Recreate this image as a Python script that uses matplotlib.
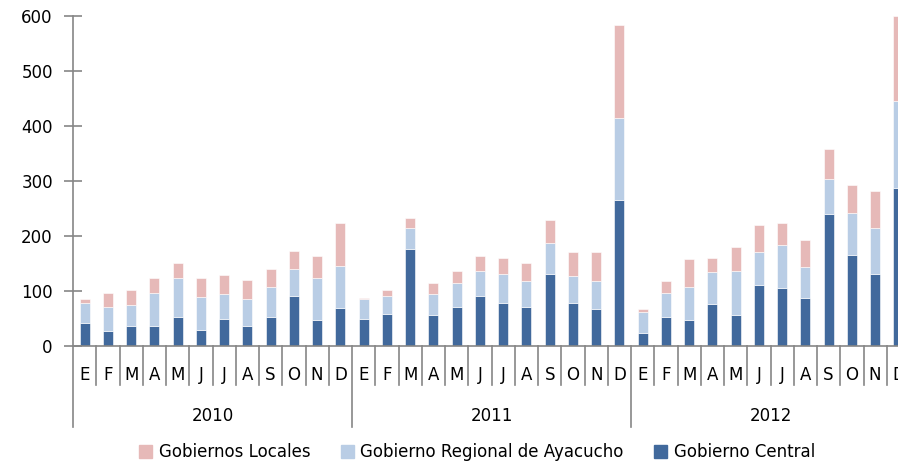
import numpy as np
import matplotlib
matplotlib.use('Agg')
from matplotlib import pyplot as plt
from matplotlib.patches import Patch

plt.rcParams['font.family'] = ['Liberation Sans Narrow', 'DejaVu Sans']

# data (millions)
years = ['2010', '2011', '2012']
months = ['E', 'F', 'M', 'A', 'M', 'J', 'J', 'A', 'S', 'O', 'N', 'D']

# cumulative tops of each layer
central = [42, 27, 36, 36, 53, 30, 50, 36, 53, 91, 48, 70,
           50, 59, 177, 56, 71, 91, 79, 71, 131, 79, 68, 266,
           24, 53, 48, 76, 56, 111, 105, 88, 240, 166, 131, 287]
regional_top = [79, 71, 74, 96, 123, 89, 94, 85, 108, 140, 123, 146,
                85, 91, 214, 94, 114, 137, 131, 119, 188, 128, 119, 414,
                62, 96, 108, 134, 137, 171, 183, 143, 304, 241, 214, 445]
locales_top = [85, 96, 102, 123, 151, 123, 129, 120, 140, 172, 164, 223,
               88, 102, 232, 114, 137, 163, 160, 151, 229, 171, 171, 584,
               67, 119, 158, 160, 180, 220, 224, 192, 359, 293, 281, 600]

central = np.array(central)
regional = np.array(regional_top) - central
locales = np.array(locales_top) - np.array(regional_top)

c_central = '#41699C'
c_regional = '#B9CDE5'
c_locales = '#E6B9B8'

fig = plt.figure(figsize=(8.98, 4.62), dpi=100)
# axes runs past the right edge like the original picture
ax = fig.add_axes([73/898, (462-346)/462, (910-73)/898, (346-16)/462])

n = len(central)
x = np.arange(n)
w = 0.42
ax.bar(x, central, w, color=c_central, edgecolor='white', linewidth=0.4)
ax.bar(x, regional, w, bottom=central, color=c_regional, edgecolor='white', linewidth=0.4)
ax.bar(x, locales, w, bottom=central + regional, color=c_locales, edgecolor='white', linewidth=0.4)

ax.set_xlim(-0.5, n - 0.5)
ax.set_ylim(0, 600)
ax.set_yticks(range(0, 601, 100))
ax.tick_params(axis='y', direction='inout', length=13, width=1.2, color='#868686',
               labelsize=12, pad=8)
ax.set_xticks([])
for s in ['top', 'right']:
    ax.spines[s].set_visible(False)
for s in ['left', 'bottom']:
    ax.spines[s].set_color('#868686')
    ax.spines[s].set_linewidth(1.2)

# two level category axis
tr = ax.get_xaxis_transform()
for i in range(n + 1):
    bottom = -0.245 if i % 12 == 0 else -0.118
    ax.plot([i - 0.5, i - 0.5], [0, bottom], transform=tr, color='#868686',
            lw=1.2, clip_on=False)
for i in range(n):
    ax.text(i, -0.088, months[i % 12], transform=tr, ha='center', va='center', fontsize=12)
for k, yr in enumerate(years):
    ax.text(12 * k + 5.5, -0.212, yr, transform=tr, ha='center', va='center', fontsize=12)

handles = [Patch(color=c_locales), Patch(color=c_regional), Patch(color=c_central)]
labels = ['Gobiernos Locales', 'Gobierno Regional de Ayacucho', 'Gobierno Central']
fig.legend(handles, labels, loc='center', bbox_to_anchor=(477/898, 1 - 452/462), ncol=3,
           frameon=False, fontsize=12, handlelength=0.8, handleheight=0.8,
           handletextpad=0.4, columnspacing=1.8)

fig.savefig('out.png', dpi=100)
